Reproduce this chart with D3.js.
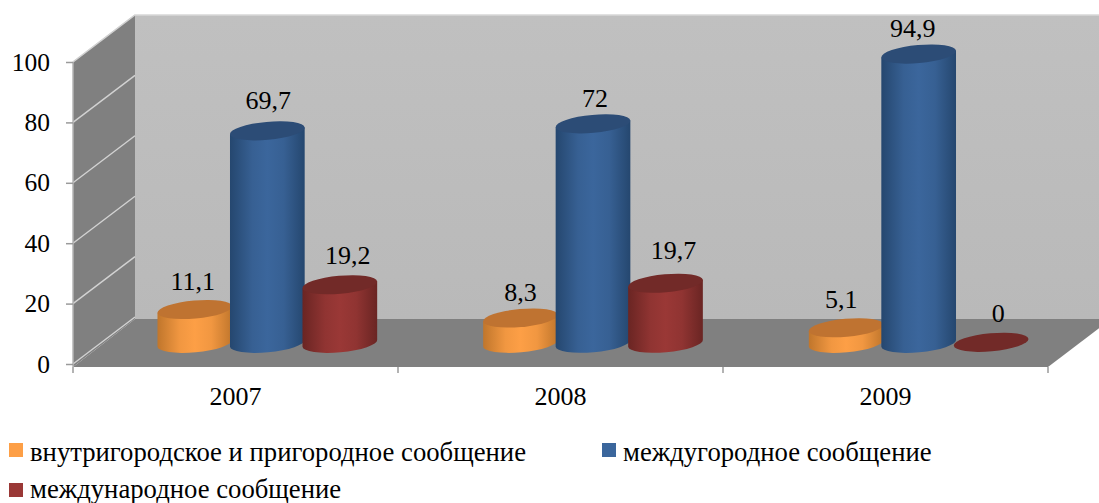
<!DOCTYPE html>
<html><head><meta charset="utf-8">
<script src="https://cdn.jsdelivr.net/npm/d3@7"></script>
<style>
html,body{margin:0;padding:0;background:#fff;overflow:hidden}
svg{display:block}
text{font-family:"Liberation Serif","Times New Roman",serif;fill:#000}
</style></head><body>
<svg id="c" width="1099" height="503"></svg>
<script>
const categories = ["2007", "2008", "2009"];
const seriesNames = ["внутригородское и пригородное сообщение", "междугородное сообщение", "международное сообщение"];
const intercity = [69.7, 72, 94.9];
const suburban = [11.1, 8.3, 5.1];
const international = [19.2, 19.7, 0];
const valueLabels = [["11,1","8,3","5,1"],["69,7","72","94,9"],["19,2","19,7","0"]];
const yTicks = [0, 20, 40, 60, 80, 100];
const seriesValues = [suburban, intercity, international];

const edge = ["#c0762c", "#25476f", "#6a2523"];
const mid = ["#fd9f46", "#3b669c", "#9a3836"];
const cap = ["#bf7331", "#2c4c76", "#722a28"];

// layout
const W = 1099, H = 503, depthX = 62, depthY = 47;
const y = d3.scaleLinear().domain([0, 100]).range([364, 62]);
const barY = d3.scaleLinear().domain([0, 100]).range([343.3, 38.5]);
const x = d3.scaleBand().domain(categories).range([73, 1048]);
const barX = d3.scaleBand().domain(categories).range([73.5, 1050.5]);
const sx = d3.scaleBand().domain(d3.range(3)).range([-108.75, 108.75]).padding(0);
const floorFront = 367, floorBack = 319;
const rx = 37.5, ry = 9, slant = -5.2;

const svg = d3.select("#c");
const defs = svg.append("defs");
seriesNames.forEach((_, i) => {
  const g = defs.append("linearGradient").attr("id", "g" + i);
  [[0, edge[i]], [.3, d3.interpolateRgb(edge[i], mid[i])(.8)], [.5, mid[i]], [.72, d3.interpolateRgb(edge[i], mid[i])(.8)], [1, edge[i]]]
    .forEach(([o, c]) => g.append("stop").attr("offset", o).attr("stop-color", c));
});
const wallGrad = defs.append("linearGradient").attr("id", "wall").attr("x1", 0).attr("x2", 0).attr("y1", 0).attr("y2", 1);
wallGrad.append("stop").attr("offset", 0).attr("stop-color", "#c0c0c0");
wallGrad.append("stop").attr("offset", 1).attr("stop-color", "#b9b9b9");

const line = d3.line();
const backY = v => y(v) - depthY;
// back wall
svg.append("path").attr("d", line([[73 + depthX, backY(100)], [W, backY(100)], [W, floorBack], [73 + depthX, floorBack]]) + "Z").attr("fill", "url(#wall)");
svg.append("path").attr("d", line([[73, y(100)], [73 + depthX, backY(100)], [W, backY(100)]])).attr("fill", "none").attr("stroke", "#d8d8d8").attr("stroke-width", 1.5);
// side wall
svg.append("path").attr("d", line([[73, y(100)], [73 + depthX, backY(100)], [73 + depthX, floorBack], [73, floorFront]]) + "Z").attr("fill", "#808080");
// floor
const slope = depthY / depthX;
svg.append("path").attr("d", line([[73 + depthX, floorBack], [W, floorBack], [W, floorFront - (W - 1048) * slope], [1048, floorFront], [73, floorFront]]) + "Z").attr("fill", "#808080");
// grid on side wall
svg.append("g").selectAll("line").data(yTicks).join("line")
  .attr("x1", 73).attr("x2", 73 + depthX)
  .attr("y1", d => y(d)).attr("y2", d => backY(d))
  .attr("stroke", "#d2d2d2").attr("stroke-width", 1.4);

// axes
const axisY = svg.append("g").attr("transform", "translate(73,0)")
  .call(d3.axisLeft(y).tickValues(yTicks).tickSize(7).tickPadding(16).tickFormat(d3.format("d")));
axisY.selectAll("text").attr("font-size", 25.5).attr("font-family", "Liberation Serif").attr("fill", "#000");
axisY.selectAll("line").attr("stroke", "#9a9a9a").attr("stroke-width", 1.5);
axisY.select(".domain").attr("stroke", "#b5b5b5").attr("stroke-width", 1.5).attr("d", `M0,${y(100)}V${floorFront}`);

const axisX = svg.append("g").attr("transform", `translate(0,${floorFront})`)
  .call(d3.axisBottom(x).tickSize(0).tickPadding(19));
axisX.select(".domain").remove();
axisX.selectAll("text").attr("font-size", 26).attr("font-family", "Liberation Serif").attr("fill", "#000").attr("dy", "0.72em");
const bounds = d3.range(categories.length + 1).map(i => 73 + i * x.step());
axisX.selectAll("line.b").data(bounds).join("line").attr("class", "b")
  .attr("x1", d => d).attr("x2", d => d).attr("y1", 0).attr("y2", 6)
  .attr("stroke", "#9a9a9a").attr("stroke-width", 1.5);

// cylinders
const ca = Math.cos(slant * Math.PI / 180), sa = Math.sin(slant * Math.PI / 180);
const centerX = (s, c) => barX(categories[c]) + barX.bandwidth() / 2 + depthX / 2 + sx(s) + sx.bandwidth() / 2;
const bars = svg.append("g");
seriesValues.forEach((vals, s) => {
  const g = bars.append("g");
  vals.forEach((v, c) => {
    const cx = centerX(s, c);
    const top = barY(v), base = barY(0);
    const lx = cx - rx * ca, ly = -rx * sa, rxp = cx + rx * ca;
    if (v > 0) {
      g.append("path")
        .attr("d", `M${lx},${top + ly}L${lx},${base + ly}A${rx},${ry} ${slant} 0 0 ${rxp},${base - ly}L${rxp},${top - ly}Z`)
        .attr("fill", `url(#g${s})`);
    }
    g.append("ellipse").attr("cx", 0).attr("cy", 0).attr("rx", rx).attr("ry", ry)
      .attr("transform", `translate(${cx},${v > 0 ? top : base - 1}) rotate(${slant})`).attr("fill", cap[s]);
  });
});

// value labels
const labelGap = 18;
const nudgeX = [[-2, 0, -5], [1, 2, -6], [8, 8, 7]];
const nudgeY = [[-1, 1, -2], [-4, 1, 1], [-3, -6, -3]];
const labels = svg.append("g");
seriesValues.forEach((vals, s) => vals.forEach((v, c) => {
  labels.append("text").attr("x", centerX(s, c) + nudgeX[s][c]).attr("y", barY(v) - labelGap + nudgeY[s][c])
    .attr("text-anchor", "middle").attr("font-size", 26).text(valueLabels[s][c]);
}));

// legend
const legendPos = [[9, 443], [602, 443], [9, 483]];
const legendBase = [461, 461, 498];
const legend = svg.append("g");
seriesNames.forEach((n, i) => {
  const [lx, ly] = legendPos[i];
  legend.append("rect").attr("x", lx).attr("y", ly).attr("width", 14).attr("height", 14).attr("fill", mid[i]);
  legend.append("text").attr("x", lx + 21).attr("y", legendBase[i]).attr("font-size", 26.7).text(n);
});
</script></body></html>
